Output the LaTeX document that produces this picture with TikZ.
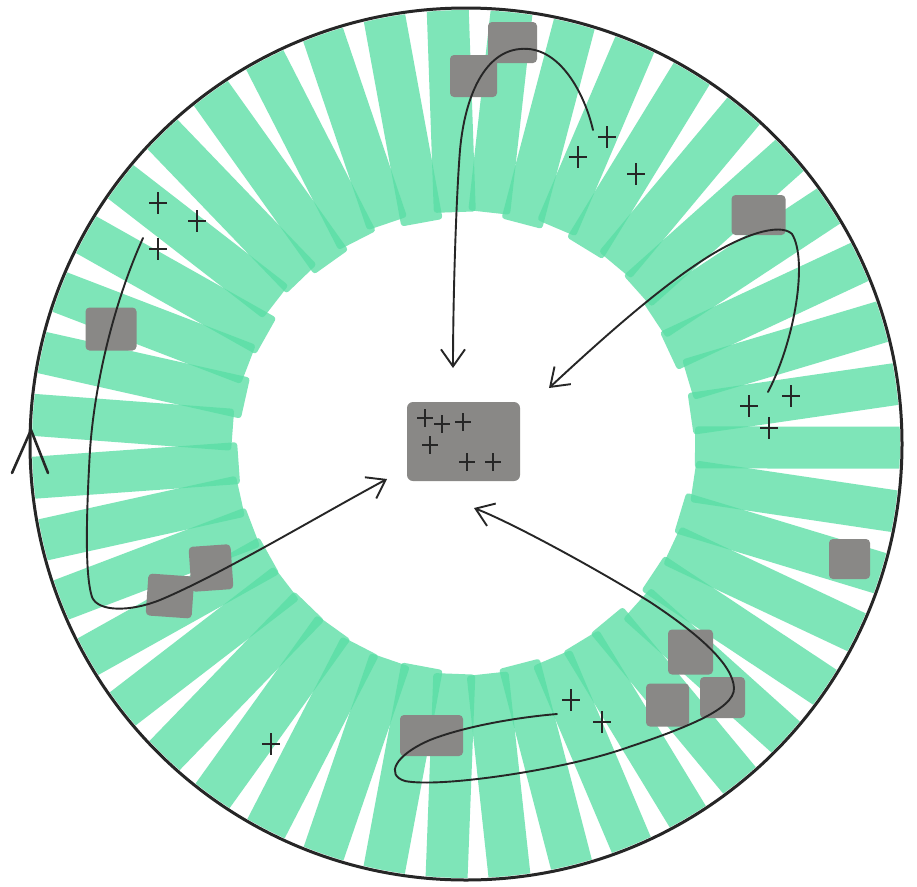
\documentclass[tikz,border=0pt]{standalone}
\usetikzlibrary{arrows.meta}
\definecolor{mint}{RGB}{90,222,165}
\definecolor{marker}{RGB}{137,136,134}
\definecolor{inkc}{RGB}{38,38,38}
\begin{document}
\begin{tikzpicture}[x=1pt,y=-1pt,
  stripe/.style={fill=mint, fill opacity=0.78, rounded corners=3pt},
  graysq/.style={fill=marker, draw=none, rounded corners=4pt, inner sep=0pt, outer sep=0pt},
  inkline/.style={draw=inkc, line width=1.9pt, line cap=round, line join=round},
  barb/.style={-{Straight Barb[length=17pt,width=24pt]}},
  plusmark/.pic={\draw[draw=inkc, line width=2pt] (-9,0) -- (9,0) (0,-11) -- (0,11);},
  smallplus/.pic={\draw[draw=inkc, line width=2pt] (-8,0) -- (8,0) (0,-9) -- (0,9);}
]
\useasboundingbox (0,0) rectangle (917,886);
\fill[white] (0,0) rectangle (917,886);

% green marker stripes
\begin{scope}
  \clip (466,444) circle[radius=434];
  \foreach \d [count=\k from 0] in {6,-1,7,3,-2,4,8,-3,1,-6,2,-4,-1,-4,-7,-6,-8,-7,-5,-4,-6,-2,-1,-5,0,-2,-4,5,-1,2,-2,4,3,1,6,-2,1,5,8,4,9,2,7}{
    \begin{scope}[shift={(463,447)}, rotate={92+\k*360/43}]
      \fill[stripe] ({229+\d},-21) rectangle (470,21);
    \end{scope}
  }
\end{scope}

% outer circle
\draw[draw=inkc, line width=3pt] (466,444) circle[radius=436];

% gray marker squares
\node[graysq, minimum width=47, minimum height=42] (g1) at (473.5,76) {};
\node[graysq, minimum width=49, minimum height=41] (g2) at (512.5,42.5) {};
\node[graysq, minimum width=54, minimum height=40] (g3) at (758.5,215) {};
\node[graysq, minimum width=51, minimum height=43] (g4) at (111,329) {};
\node[graysq, minimum width=46, minimum height=42, rotate=-4] (g5) at (170,596) {};
\node[graysq, minimum width=42, minimum height=45, rotate=4] (g6) at (211,568) {};
\node[graysq, minimum width=63, minimum height=41] (g7) at (431.5,735.5) {};
\node[graysq, minimum width=45, minimum height=45] (g8) at (690.5,652) {};
\node[graysq, minimum width=43, minimum height=43] (g9) at (667.5,705) {};
\node[graysq, minimum width=45, minimum height=41] (g10) at (722.5,697.5) {};
\node[graysq, minimum width=41, minimum height=40] (g11) at (849.5,559) {};
\node[graysq, minimum width=113, minimum height=79, rounded corners=6pt] (core) at (463.5,441.5) {};

% crosses
\foreach \p in {(607,137),(578,157),(636,174),(158,203),(197,221),(158,249),
                (749,406),(791,396),(769,428),(571,700),(602,722),(271,744)}
  \pic at \p {plusmark};
\foreach \p in {(425,418),(442,424),(463,422),(430,445),(467,462),(493,462)}
  \pic at \p {smallplus};

% connectors
\coordinate (a0) at (593,130);
\coordinate (a1) at (453,368);
\coordinate (b0) at (768,392);
\coordinate (b1) at (549,388);
\coordinate (c0) at (143,238);
\coordinate (c1) at (387,479);
\coordinate (d0) at (557,714);
\coordinate (d1) at (474,508);

\draw[inkline, barb] (a0) .. controls (585,95) and (560,45) .. (520,49)
  .. controls (485,52) and (465,95) .. (460,150)
  .. controls (456,200) and (453,300) .. (a1);
\draw[inkline, barb] (b0) .. controls (795,340) and (808,260) .. (792,234)
  .. controls (780,222) and (740,235) .. (700,262)
  .. controls (650,295) and (590,350) .. (b1);
\draw[inkline, barb] (c0) .. controls (115,300) and (95,380) .. (90,450)
  .. controls (86,520) and (85,575) .. (92,597)
  .. controls (98,612) and (130,612) .. (160,600)
  .. controls (220,575) and (320,515) .. (c1);
\draw[inkline, barb] (d0) .. controls (510,718) and (460,728) .. (430,740)
  .. controls (395,755) and (385,775) .. (405,781)
  .. controls (440,788) and (560,770) .. (620,750)
  .. controls (680,730) and (735,710) .. (734,688)
  .. controls (733,665) and (700,635) .. (650,602)
  .. controls (590,565) and (510,522) .. (d1);

% arrow mark on the circle
\coordinate (e0) at (31,430);
\coordinate (e1) at (12,473);
\coordinate (e2) at (48,473);
\draw[draw=inkc, line width=2.6pt, line cap=round, line join=round] (e1) -- (e0) -- (e2);
\end{tikzpicture}
\end{document}
